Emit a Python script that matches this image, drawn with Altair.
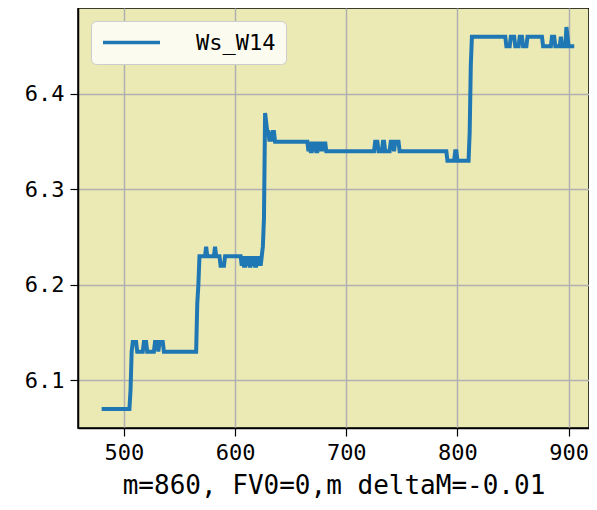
import altair as alt
import pandas as pd

# Ws_W14: (x where the value starts, value) — each value holds until the next entry
changes = [
    (480, 6.07), (506, 6.09), (507, 6.13), (508, 6.14), (512, 6.13), (518, 6.14), (521, 6.13),
    (528, 6.14), (531, 6.13), (532, 6.14), (536, 6.13), (566, 6.18), (567, 6.20), (568, 6.23),
    (574, 6.24), (575, 6.23), (582, 6.24), (583, 6.23), (587, 6.22), (591, 6.23),
    (606, 6.22), (607, 6.23), (608, 6.22), (610, 6.23), (611, 6.22), (612, 6.23), (613, 6.22),
    (615, 6.23), (616, 6.22), (617, 6.23), (618, 6.22), (620, 6.23), (621, 6.22), (622, 6.23),
    (623, 6.22), (624, 6.23), (625, 6.24), (626, 6.27), (627, 6.38), (628, 6.37), (629, 6.36),
    (631, 6.35), (632, 6.36), (633, 6.35), (634, 6.36), (636, 6.35),
    (666, 6.34), (667, 6.35), (668, 6.34), (670, 6.35), (671, 6.34), (672, 6.35), (673, 6.34),
    (675, 6.35), (676, 6.34), (677, 6.35), (678, 6.34), (679, 6.35), (680, 6.34), (681, 6.35),
    (682, 6.34), (726, 6.35), (729, 6.34), (733, 6.35), (735, 6.34), (740, 6.35), (743, 6.34),
    (744, 6.35), (748, 6.34), (791, 6.33), (798, 6.34), (800, 6.33), (811, 6.36), (812, 6.43),
    (813, 6.46), (844, 6.45), (848, 6.46), (852, 6.45), (856, 6.46), (859, 6.45), (863, 6.46),
    (877, 6.45), (885, 6.46), (888, 6.45), (893, 6.46), (894, 6.45), (898, 6.47), (899, 6.46),
    (900, 6.45),
]
x_end = 905
series_name = "Ws_W14"

x_ticks = [500, 600, 700, 800, 900]
y_ticks = [6.1, 6.2, 6.3, 6.4]
x_title = "m=860, FV0=0,m deltaM=-0.01"

rows = []
for i, (xs, val) in enumerate(changes):
    xe = changes[i + 1][0] if i + 1 < len(changes) else x_end + 1
    for xv in range(xs, xe):
        rows.append({"x": xv, "y": val, "series": series_name})
df = pd.DataFrame(rows)

FONT = "DejaVu Sans Mono"

chart = alt.Chart(df).mark_line(strokeWidth=4, clip=True).encode(
    x=alt.X("x:Q",
            scale=alt.Scale(domain=[458.75, 918.3], nice=False, zero=False),
            axis=alt.Axis(values=x_ticks, format="d", title=x_title,
                          titleFontSize=26, titleFont=FONT, titleFontWeight="normal",
                          titleColor="black", titlePadding=9)),
    y=alt.Y("y:Q",
            scale=alt.Scale(domain=[6.05, 6.49], nice=False, zero=False),
            axis=alt.Axis(values=y_ticks, format=".1f", title=None)),
    color=alt.Color("series:N",
                    scale=alt.Scale(domain=[series_name], range=["#1f77b4"]),
                    legend=alt.Legend(title=None, orient="top-left", offset=13,
                                      symbolType="M-1,0H5", symbolSize=361,
                                      symbolStrokeWidth=3.5, labelFont=FONT,
                                      labelFontSize=22, labelColor="black",
                                      labelOffset=72, fillColor="#fbfbf0",
                                      strokeColor="#cccccc", cornerRadius=5,
                                      padding=10)),
).properties(
    width=511, height=420,
    autosize=alt.AutoSizeParams(type="none"),
    padding={"left": 70, "top": 0, "right": 0, "bottom": 72},
).configure_view(
    fill="#ebeab5", stroke="black", strokeWidth=1.5,
).configure_axis(
    labelFont=FONT, labelFontSize=22, labelColor="black",
    tickColor="black", tickSize=8, tickWidth=1.2,
    domainColor="black", domainWidth=1.5,
    grid=True, gridColor="#b0b0b0", gridWidth=1.5,
    labelPadding=6,
)

chart.save("out.html", embed_options={"renderer": "svg", "actions": False})
